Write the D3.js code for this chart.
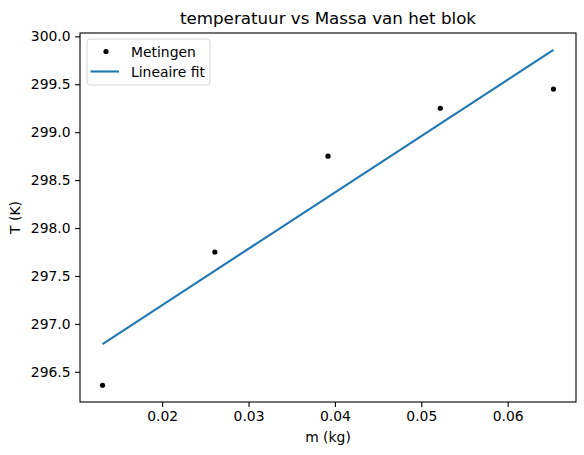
<!DOCTYPE html>
<html>
<head>
<meta charset="utf-8">
<script src="https://cdn.jsdelivr.net/npm/d3@7"></script>
<style>
  body { margin: 0; background: #fff; }
  svg { display: block; font-family: "DejaVu Sans", sans-serif; }
</style>
</head>
<body>
<div id="chart"></div>
<script>
// measured data (mass in kg, temperature in K)
const massKg = [0.0131, 0.0261, 0.0392, 0.0522, 0.0653];
const tempK = [296.36, 297.75, 298.75, 299.25, 299.45];

// fitted line, endpoints
const fitX = [0.0131, 0.0653];
const fitY = [296.79, 299.86];

const xTicks = [0.02, 0.03, 0.04, 0.05, 0.06];
const yTicks = [296.5, 297.0, 297.5, 298.0, 298.5, 299.0, 299.5, 300.0];

const titleText = "temperatuur vs Massa van het blok";
const legendLabels = ["Metingen", "Lineaire fit"];

const W = 584, H = 455;
const margin = {top: 33, right: 8, bottom: 53, left: 80};
const width = W - margin.left - margin.right;
const height = H - margin.top - margin.bottom;

const svg = d3.select('#chart')
    .append('svg')
    .attr('width', W)
    .attr('height', H);

const g = svg.append('g')
    .attr('transform', `translate(${margin.left},${margin.top})`);

// matplotlib-like 5% padding around the data
const xMin = d3.min(massKg.concat(fitX)), xMax = d3.max(massKg.concat(fitX));
const yMin = d3.min(tempK.concat(fitY)), yMax = d3.max(tempK.concat(fitY));
const xPad = (xMax - xMin) * 0.05, yPad = (yMax - yMin) * 0.05;

const xScale = d3.scaleLinear()
    .domain([xMin - xPad, xMax + xPad])
    .range([0, width]);

const yScale = d3.scaleLinear()
    .domain([yMin - yPad, yMax + yPad])
    .range([height, 0]);

// axes
const xAxis = g.append('g')
    .attr('transform', `translate(0,${height})`)
    .call(d3.axisBottom(xScale).tickValues(xTicks).tickFormat(d3.format('.2f')).tickSizeOuter(0).tickSize(4.9).tickPadding(4.5));

const yAxis = g.append('g')
    .call(d3.axisLeft(yScale).tickValues(yTicks).tickFormat(d3.format('.1f')).tickSizeOuter(0).tickSize(4.9).tickPadding(4.5));

[xAxis, yAxis].forEach(ax => {
    ax.select('.domain').remove();
    ax.selectAll('line').attr('stroke', '#000').attr('stroke-width', 1.1);
    ax.selectAll('text')
        .style('font-size', '13.9px')
        .style('font-family', '"DejaVu Sans", sans-serif')
        .attr('fill', '#000');
});

// frame
g.append('rect')
    .attr('x', 0).attr('y', 0)
    .attr('width', width).attr('height', height)
    .attr('fill', 'none')
    .attr('stroke', '#000')
    .attr('stroke-width', 1.1);

// fit line
const line = d3.line()
    .x(d => xScale(d[0]))
    .y(d => yScale(d[1]));

g.append('path')
    .datum(fitX.map((x, i) => [x, fitY[i]]))
    .attr('d', line)
    .attr('fill', 'none')
    .attr('stroke', '#1f77b4')
    .attr('stroke-width', 2.1);

// measurements
g.selectAll('circle.pt')
    .data(massKg.map((x, i) => [x, tempK[i]]))
    .enter()
    .append('circle')
    .attr('class', 'pt')
    .attr('cx', d => xScale(d[0]))
    .attr('cy', d => yScale(d[1]))
    .attr('r', 2.6)
    .attr('fill', '#000');

// title and axis labels
svg.append('text')
    .attr('x', margin.left + width / 2)
    .attr('y', 24)
    .attr('text-anchor', 'middle')
    .style('font-size', '16.7px')
    .text(titleText);

svg.append('text')
    .attr('x', margin.left + width / 2)
    .attr('y', 442)
    .attr('text-anchor', 'middle')
    .style('font-size', '13.9px')
    .text('m (kg)');

svg.append('text')
    .attr('transform', `translate(20,${margin.top + height / 2}) rotate(-90)`)
    .attr('text-anchor', 'middle')
    .style('font-size', '13.9px')
    .text('T (K)');

// legend
const legend = g.append('g')
    .attr('transform', 'translate(7,6)');

legend.append('rect')
    .attr('x', 0).attr('y', 0)
    .attr('width', 123).attr('height', 46)
    .attr('rx', 3)
    .attr('fill', '#fff')
    .attr('fill-opacity', 0.8)
    .attr('stroke', '#d6d6d6')
    .attr('stroke-width', 1);

legend.append('circle')
    .attr('cx', 19).attr('cy', 12.5)
    .attr('r', 2.6)
    .attr('fill', '#000');

legend.append('line')
    .attr('x1', 3.5).attr('x2', 32)
    .attr('y1', 32.5).attr('y2', 32.5)
    .attr('stroke', '#1f77b4')
    .attr('stroke-width', 2.1);

legend.selectAll('text')
    .data(legendLabels)
    .enter()
    .append('text')
    .attr('x', 44)
    .attr('y', (d, i) => 17.5 + i * 20)
    .style('font-size', '13.9px')
    .text(d => d);
</script>
</body>
</html>
